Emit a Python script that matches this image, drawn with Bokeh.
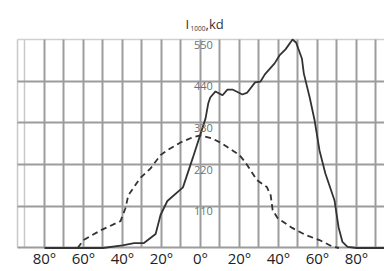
from bokeh.plotting import figure
from bokeh.models import FixedTicker, Grid
from bokeh.core.properties import value
from bokeh.embed import file_html
from bokeh.resources import INLINE

# Solid curve (angle in degrees, luminous intensity I1000 in kd)
solid_angle = [-80, -50, -40, -34, -29, -23, -20.5, -17, -9, -4, 2.6, 4, 5, 7.7, 11.3,
               13.8, 16.4, 21.5, 24, 28, 30.8, 33, 38, 40.5, 43.6, 47.2, 49, 52, 53, 56,
               58.5, 61, 64, 68.7, 70.8, 72.8, 75.4, 80, 95]
solid_value = [0, 0, 7, 13, 13, 37, 87, 124, 160, 237, 342, 382, 397, 413, 403,
               418, 418, 405, 410, 437, 439, 458, 487, 508, 524, 550, 542, 500, 460, 397,
               337, 258, 197, 126, 55, 16, 3, 0, 0]

# Dashed curve
dash_angle = [-63, -60, -51, -41, -38.5, -37, -31, -25.6, -20.5, -17, -10, -4, 0, 6, 11,
              20, 23, 29, 34, 36, 37, 39.5, 47, 54, 61, 68, 71]
dash_value = [0, 21, 47, 71, 105, 139, 184, 210, 245, 258, 279, 292, 297, 289, 276,
              245, 226, 179, 161, 139, 100, 79, 53, 34, 21, 3, 0]

# Ticks and labels
x_grid_ticks = [-80, -70, -60, -50, -40, -30, -20, -10, 0, 10, 20, 30, 40, 50, 60, 70, 80, 90]
x_label_ticks = [-80, -60, -40, -20, 0, 20, 40, 60, 80]
x_labels = ["80°", "60°", "40°", "20°", "0°", "20°", "40°", "60°", "80°"]
y_ticks = [0, 110, 220, 330, 440]
y_label_values = [110, 220, 330, 440, 550]
y_labels = ["110", "220", "330", "440", "550"]

FONT = "Open Sans"

# plot-area limits (left edge of the drawing, top of the scale)
X_LEFT, Y_TOP = -93.85, 550

p = figure(width=384, height=271, x_range=(-102.56, 94.36), y_range=(-62.0, 652.9),
           x_axis_type=None, y_axis_type=None,
           output_backend="svg", toolbar_location=None, min_border=0)
p.background_fill_color = "white"
p.border_fill_color = "white"
p.outline_line_color = None

# light frame lines (left edge, -90 line and top)
p.add_layout(Grid(dimension=0, ticker=FixedTicker(ticks=[X_LEFT, -90]), cross_bounds=(0, Y_TOP),
                  grid_line_color="#c8c8c8", grid_line_width=1.5))
p.add_layout(Grid(dimension=1, ticker=FixedTicker(ticks=[Y_TOP]), cross_bounds=(X_LEFT, 100),
                  grid_line_color="#d0d0d0", grid_line_width=1.5))
# main grid
p.add_layout(Grid(dimension=0, ticker=FixedTicker(ticks=x_grid_ticks), cross_bounds=(0, Y_TOP),
                  grid_line_color="#9c9c9c", grid_line_width=2))
p.add_layout(Grid(dimension=1, ticker=FixedTicker(ticks=y_ticks), cross_bounds=(X_LEFT, 100),
                  grid_line_color="#9c9c9c", grid_line_width=2))

p.line(dash_angle, dash_value, line_color="#333333", line_width=1.8, line_dash="6 4")
p.line(solid_angle, solid_value, line_color="#333333", line_width=1.8)

# value labels inside the grid
p.text(x=1.5, y=y_label_values, text=y_labels, text_align="center", text_baseline="top",
       y_offset=1, text_font_size="11px", text_color="#6f6f6f", text_font=value(FONT))

# angle labels below the grid
p.text(x=x_label_ticks, y=-27.7, text=x_labels, text_align="center", text_baseline="middle",
       text_font_size="15px", text_color="#222222", text_font=value(FONT))

# Title: I with subscript 1000, then ",kd"
p.text(x=-7.7, y=592, text=["I"], text_align="left", text_baseline="alphabetic",
       text_font_size="13px", text_color="#333333", text_font=value(FONT))
p.text(x=-5.1, y=579, text=["1000"], text_align="left", text_baseline="alphabetic",
       text_font_size="6.5px", text_color="#333333", text_font=value(FONT))
p.text(x=2.6, y=592, text=[",kd"], text_align="left", text_baseline="alphabetic",
       text_font_size="13px", text_color="#333333", text_font=value(FONT))

open("out.html", "w").write(file_html(p, INLINE))
